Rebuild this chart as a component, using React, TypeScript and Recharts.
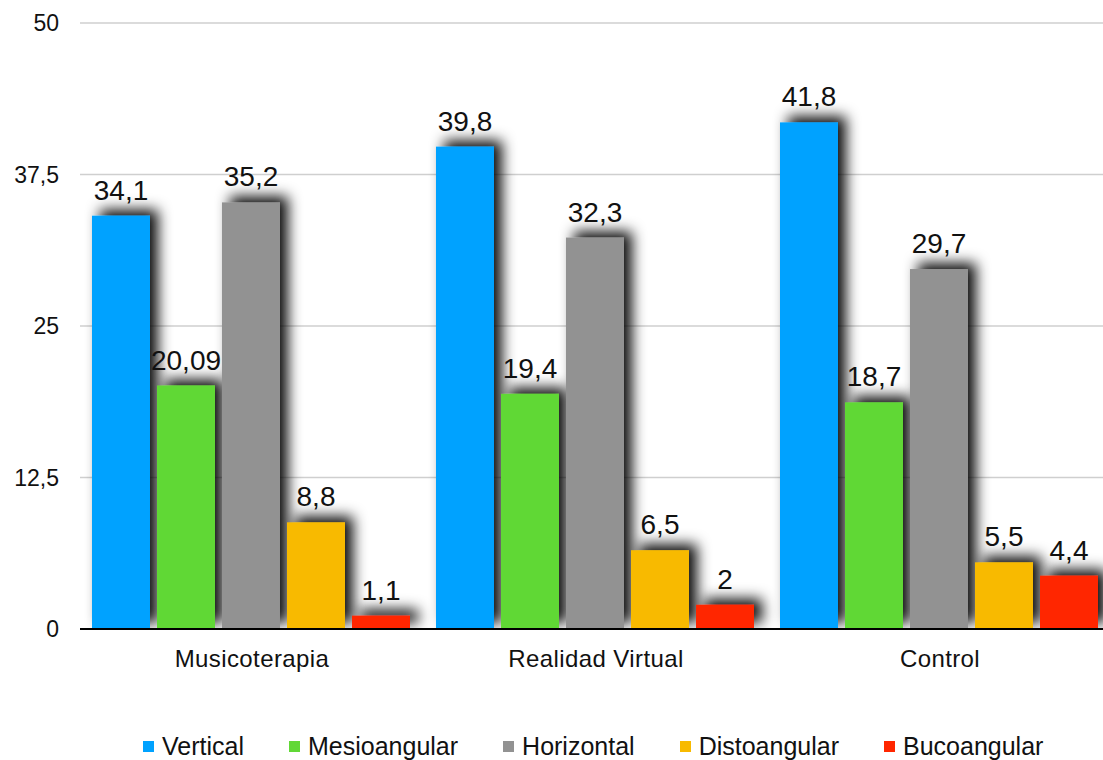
import React from 'react';
import { BarChart, Bar, XAxis, YAxis, CartesianGrid, Legend, LabelList } from 'recharts';

const categories = ['Musicoterapia', 'Realidad Virtual', 'Control'];
const vertical = [34.1, 39.8, 41.8];
const mesioangular = [20.09, 19.4, 18.7];
const horizontal = [35.2, 32.3, 29.7];
const distoangular = [8.8, 6.5, 5.5];
const bucoangular = [1.1, 2, 4.4];
const yTicks = [0, 12.5, 25, 37.5, 50];

const seriesDefs = [
  { key: 'vertical', name: 'Vertical', color: '#00A2FF', values: vertical },
  { key: 'mesioangular', name: 'Mesioangular', color: '#61D836', values: mesioangular },
  { key: 'horizontal', name: 'Horizontal', color: '#929292', values: horizontal },
  { key: 'distoangular', name: 'Distoangular', color: '#F8BA00', values: distoangular },
  { key: 'bucoangular', name: 'Bucoangular', color: '#FF2600', values: bucoangular },
];

const data = categories.map((c, i) => {
  const row: any = { category: c };
  seriesDefs.forEach((s) => {
    row[s.key] = s.values[i];
  });
  return row;
});

const FONT = '"Liberation Sans", Arial, sans-serif';
const fmt = (v: any) => String(v).replace('.', ',');

const ShadowBar = (props: any) => {
  const { x, y, width, height, fill } = props;
  if (height == null || width == null) return null;
  return <rect x={x} y={y} width={width} height={height} fill={fill} filter="url(#barShadow)" />;
};

const LegendContent = () => (
  <div
    style={{
      display: 'flex',
      alignItems: 'center',
      paddingLeft: 143,
      fontFamily: FONT,
      fontSize: 25,
      color: '#111',
      height: 28,
      lineHeight: '28px',
    }}
  >
    {seriesDefs.map((s, i) => (
      <div key={s.key} style={{ display: 'flex', alignItems: 'center', marginRight: i < seriesDefs.length - 1 ? 45 : 0 }}>
        <span style={{ display: 'inline-block', width: 11, height: 11, background: s.color, marginRight: 8 }} />
        <span>{s.name}</span>
      </div>
    ))}
  </div>
);

export default function App() {
  return (
    <div style={{ position: 'absolute', left: 0, top: 0, width: 1103, height: 760, overflow: 'hidden', background: '#fff' }}>
      <BarChart
        width={1115}
        height={760}
        data={data}
        margin={{ top: 23, right: 3, bottom: 0, left: 0 }}
        barCategoryGap={12}
        barGap={7}
      >
        <defs>
          <filter id="barShadow" filterUnits="userSpaceOnUse" x={0} y={0} width={1200} height={628}>
            <feDropShadow dx={8} dy={-6} stdDeviation={7} floodColor="#000" floodOpacity={0.95} />
          </filter>
        </defs>
        <CartesianGrid vertical={false} stroke="#cfcfcf" strokeWidth={1.5} />
        <YAxis
          type="number"
          domain={[0, 50]}
          ticks={yTicks}
          tickFormatter={fmt}
          axisLine={false}
          tickLine={false}
          tickSize={0}
          tickMargin={21}
          width={80}
          tick={{ fontFamily: FONT, fontSize: 23, fill: '#111' }}
        />
        {seriesDefs.map((s) => (
          <Bar key={s.key} dataKey={s.key} name={s.name} fill={s.color} isAnimationActive={false} shape={ShadowBar}>
            <LabelList
              dataKey={s.key}
              position="top"
              offset={16}
              formatter={fmt}
              style={{ fontFamily: FONT, fontSize: 28, fill: '#111' }}
            />
          </Bar>
        ))}
        <XAxis
          dataKey="category"
          axisLine={{ stroke: '#000', strokeWidth: 2 }}
          tickLine={false}
          tickSize={0}
          tickMargin={21}
          height={103}
          tick={{ fontFamily: FONT, fontSize: 24, fill: '#111', letterSpacing: 0.4 }}
        />
        <Legend verticalAlign="bottom" content={LegendContent} />
      </BarChart>
    </div>
  );
}
